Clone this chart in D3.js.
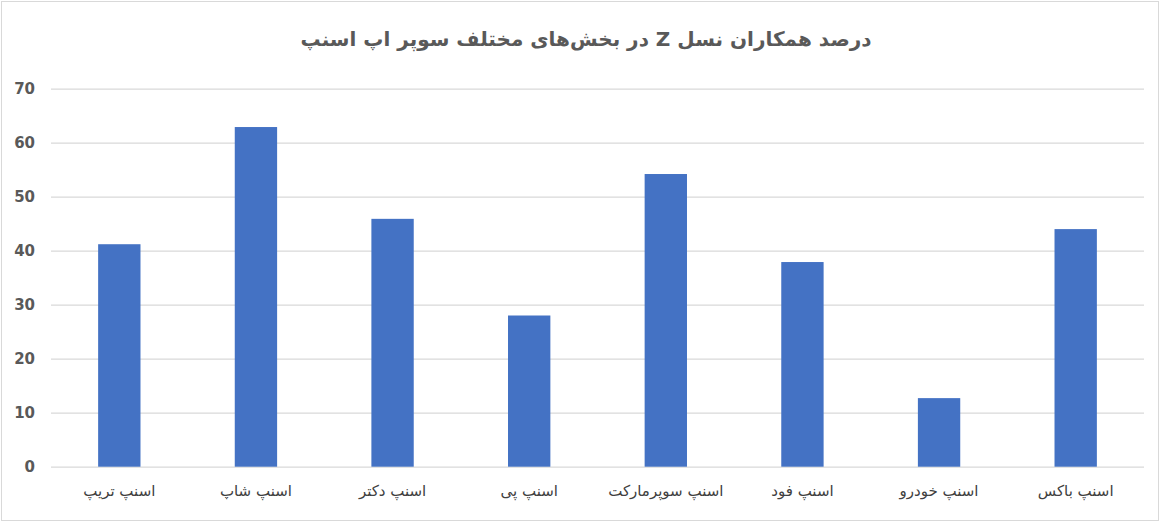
<!DOCTYPE html>
<html>
<head>
<meta charset="utf-8">
<script src="https://cdn.jsdelivr.net/npm/d3@7"></script>
<style>
	html, body { margin: 0; padding: 0; background: #fff; }
	svg { display: block; }
</style>
</head>
<body>
<div id="canvas"></div>
<script>
// Data
var title = 'درصد همکاران نسل Z در بخش‌های مختلف سوپر اپ اسنپ',
	categories = [ 'اسنپ تریپ', 'اسنپ شاپ', 'اسنپ دکتر', 'اسنپ پی', 'اسنپ سوپرمارکت', 'اسنپ فود', 'اسنپ خودرو', 'اسنپ باکس' ],
	values = [ 41.2, 62.9, 45.9, 28.0, 54.2, 37.9, 12.7, 44.0 ],
	yTicks = [ 0, 10, 20, 30, 40, 50, 60, 70 ];

// UI
var width = 1168,
	height = 522,
	margin = { top: 88.7, right: 24, bottom: 55.3, left: 51 },
	barColor = '#4472C4',
	gridColor = '#D9D9D9',
	textColor = '#595959',
	persianFont = '"DejaVu Sans", "Noto Sans", sans-serif';

var svg = d3.select('#canvas').append('svg')
	.attr('width', width)
	.attr('height', height);

// Chart border
svg.append('rect')
	.attr('x', 1.5).attr('y', 1.5)
	.attr('width', width - 11).attr('height', height - 3)
	.attr('fill', '#fff')
	.attr('stroke', gridColor);

var x = d3.scaleBand()
	.domain(categories)
	.range([margin.left, width - margin.right])
	.paddingInner(0.69)
	.paddingOuter(0.345);

var y = d3.scaleLinear()
	.domain([0, 70])
	.range([height - margin.bottom, margin.top]);

// Gridlines
var yAxis = d3.axisLeft(y)
	.tickValues(yTicks)
	.tickSize(-(width - margin.right - margin.left))
	.tickPadding(16);

var gY = svg.append('g')
	.attr('transform', 'translate(' + margin.left + ',0)')
	.call(yAxis);
gY.select('.domain').remove();
gY.selectAll('.tick line')
	.attr('stroke', gridColor)
	.attr('stroke-width', 1.3);
gY.selectAll('.tick text')
	.attr('fill', textColor)
	.style('font-family', '"DejaVu Sans", sans-serif')
	.style('font-size', '15px')
	.style('font-weight', 'bold');

// Bars
svg.append('g').selectAll('rect')
	.data(values)
	.enter()
		.append('rect')
		.attr('x', function(d, i) { return x(categories[i]); })
		.attr('y', function(d) { return y(d); })
		.attr('width', x.bandwidth())
		.attr('height', function(d) { return y(0) - y(d); })
		.attr('fill', barColor);

// Category labels
var xAxis = d3.axisBottom(x).tickSize(0).tickPadding(19);
var gX = svg.append('g')
	.attr('transform', 'translate(0,' + y(0) + ')')
	.call(xAxis);
gX.select('.domain').remove();
gX.selectAll('.tick text')
	.attr('fill', '#404040')
	.attr('direction', 'rtl')
	.style('font-family', persianFont)
	.style('font-size', '15px');

// Title
svg.append('text')
	.attr('x', 586)
	.attr('y', 46)
	.attr('text-anchor', 'middle')
	.attr('direction', 'rtl')
	.attr('fill', textColor)
	.style('font-family', persianFont)
	.style('font-size', '20px')
	.style('font-weight', 'bold')
	.text(title);
</script>
</body>
</html>
